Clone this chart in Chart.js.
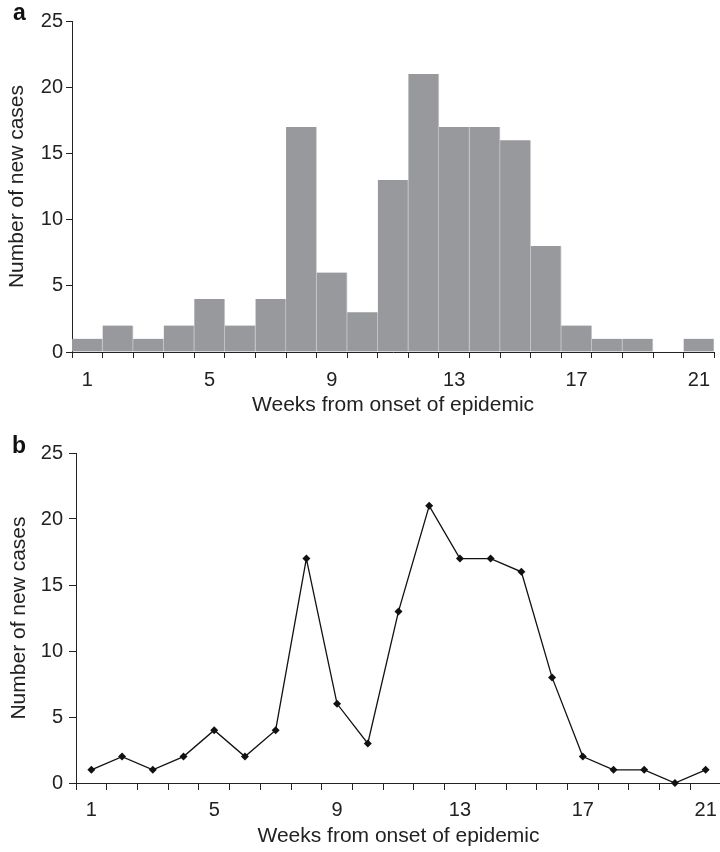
<!DOCTYPE html>
<html>
<head>
<meta charset="utf-8">
<script src="https://cdn.jsdelivr.net/npm/chart.js@4.4.1/dist/chart.umd.min.js"></script>
<style>
  html, body { margin: 0; padding: 0; background: #fff; overflow: hidden; width: 720px; height: 852px; }
  .panel { position: absolute; left: 0; }
  .tag { position: absolute; font: bold 23px "Liberation Sans", Arial, sans-serif; color: #111; }
</style>
</head>
<body>
<div class="panel" style="top:0"><canvas id="histChart" width="720" height="420"></canvas></div>
<div class="panel" style="top:420px"><canvas id="lineChart" width="725" height="432"></canvas></div>
<div class="tag" style="left:13px; top:-1px">a</div>
<div class="tag" style="left:12px; top:432px">b</div>
<script>
const weeks = [1, 2, 3, 4, 5, 6, 7, 8, 9, 10, 11, 12, 13, 14, 15, 16, 17, 18, 19, 20, 21];
const newCases = [1, 2, 1, 2, 4, 2, 4, 17, 6, 3, 13, 21, 17, 17, 16, 8, 2, 1, 1, 0, 1];
const shownWeeks = [1, 5, 9, 13, 17, 21];
const yTicks = [0, 5, 10, 15, 20, 25];

const fontFamily = '"Liberation Sans", Arial, sans-serif';
const textColor = '#222';
const axisColor = '#222';

// g: per-panel geometry (axis sizes, paddings, tick lengths)
function scalesFor(g) {
  return {
    x: {
      type: 'category',
      offset: true,
      afterFit: s => { s.height = g.xHeight; },
      grid: { offset: true, drawOnChartArea: false, drawTicks: true, tickLength: g.xTick, color: axisColor, lineWidth: 1 },
      border: { display: true, color: axisColor, width: 1 },
      ticks: {
        autoSkip: false, maxRotation: 0, padding: g.xTickPad,
        color: textColor, font: { family: fontFamily, size: 20 },
        callback: (v, i) => shownWeeks.includes(weeks[i]) ? String(weeks[i]) : ''
      },
      title: { display: true, text: 'Weeks from onset of epidemic', color: textColor,
               font: { family: fontFamily, size: 21 }, padding: { top: 0, bottom: g.xTitlePad } }
    },
    y: {
      min: 0, max: 25,
      afterFit: s => { s.width = g.yWidth; },
      afterBuildTicks: s => { s.ticks = yTicks.map(v => ({ value: v })); },
      grid: { drawOnChartArea: false, drawTicks: true, tickLength: g.yTick, color: axisColor, lineWidth: 1 },
      border: { display: true, color: axisColor, width: 1 },
      ticks: { padding: g.yTickPad, color: textColor, font: { family: fontFamily, size: 20 } },
      title: { display: true, text: 'Number of new cases', color: textColor,
               font: { family: fontFamily, size: 21 }, padding: { top: g.yTitlePad, bottom: 0 } }
    }
  };
}

const common = {
  responsive: false,
  animation: false,
  devicePixelRatio: 1,
  plugins: { legend: { display: false }, tooltip: { enabled: false } }
};

new Chart(document.getElementById('histChart'), {
  type: 'bar',
  data: {
    labels: weeks,
    datasets: [{
      data: newCases,
      backgroundColor: '#98999d',
      borderColor: '#cfcfd2',
      borderWidth: { top: 0, left: 0, bottom: 0, right: 1 },
      barPercentage: 1,
      categoryPercentage: 1
    }]
  },
  options: {
    ...common,
    layout: { padding: { top: 21, right: 0, left: 0, bottom: 0 } },
    scales: scalesFor({ xHeight: 68, xTick: 6, xTickPad: 10, xTitlePad: 2,
                        yWidth: 72, yTick: 6, yTickPad: 3, yTitlePad: 5 })
  }
});

new Chart(document.getElementById('lineChart'), {
  type: 'line',
  data: {
    labels: weeks,
    datasets: [{
      data: newCases,
      borderColor: '#111',
      borderWidth: 1.3,
      backgroundColor: '#111',
      pointStyle: 'rectRot',
      pointRadius: 4,
      pointBackgroundColor: '#111',
      pointBorderWidth: 0,
      tension: 0,
      clip: false
    }]
  },
  options: {
    ...common,
    layout: { padding: { top: 33, right: 0, left: 0, bottom: 0 } },
    scales: scalesFor({ xHeight: 69, xTick: 7, xTickPad: 8, xTitlePad: 3,
                        yWidth: 76, yTick: 7, yTickPad: 6, yTitlePad: 7 })
  }
});
</script>
</body>
</html>
